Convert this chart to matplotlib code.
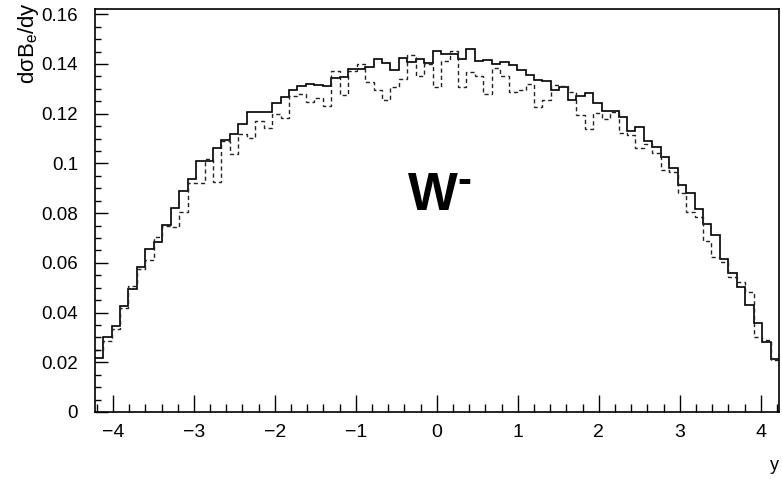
import matplotlib
matplotlib.use("Agg")
import matplotlib.pyplot as plt
import numpy as np

# histogram range / bins
y_lo, y_hi = -4.225, 4.225
n_bins = 81

# solid histogram (dsigma B_e / dy)
solid = [0.0217, 0.0300, 0.0347, 0.0426, 0.0493, 0.0584, 0.0654, 0.0683, 0.0752, 0.0819,
         0.0890, 0.0939, 0.1009, 0.1009, 0.1063, 0.1093, 0.1120, 0.1160, 0.1205, 0.1207,
         0.1207, 0.1243, 0.1268, 0.1294, 0.1313, 0.1321, 0.1315, 0.1313, 0.1344, 0.1347,
         0.1378, 0.1378, 0.1387, 0.1422, 0.1406, 0.1375, 0.1426, 0.1408, 0.1419, 0.1406,
         0.1451, 0.1442, 0.1442, 0.1422, 0.1459, 0.1411, 0.1415, 0.1399, 0.1408, 0.1395,
         0.1377, 0.1356, 0.1336, 0.1333, 0.1297, 0.1306, 0.1257, 0.1271, 0.1285, 0.1244,
         0.1210, 0.1210, 0.1187, 0.1131, 0.1147, 0.1089, 0.1065, 0.1025, 0.0980, 0.0915,
         0.0879, 0.0815, 0.0756, 0.0712, 0.0614, 0.0558, 0.0504, 0.0430, 0.0357, 0.0283,
         0.0213]

# dashed histogram
dashed = [0.0250, 0.0285, 0.0334, 0.0420, 0.0507, 0.0574, 0.0610, 0.0702, 0.0750, 0.0745,
          0.0805, 0.0922, 0.0922, 0.1016, 0.0924, 0.1089, 0.1037, 0.1118, 0.1104, 0.1170,
          0.1143, 0.1197, 0.1183, 0.1270, 0.1281, 0.1248, 0.1265, 0.1230, 0.1372, 0.1274,
          0.1372, 0.1400, 0.1328, 0.1297, 0.1257, 0.1308, 0.1341, 0.1438, 0.1351, 0.1400,
          0.1308, 0.1412, 0.1452, 0.1308, 0.1366, 0.1351, 0.1278, 0.1382, 0.1352, 0.1288,
          0.1297, 0.1319, 0.1227, 0.1255, 0.1315, 0.1310, 0.1288, 0.1194, 0.1137, 0.1203,
          0.1178, 0.1205, 0.1123, 0.1114, 0.1064, 0.1080, 0.1040, 0.0975, 0.0966, 0.0879,
          0.0805, 0.0785, 0.0688, 0.0624, 0.0605, 0.0545, 0.0522, 0.0484, 0.0303, 0.0290,
          0.0210]

x_ticks = [-4, -3, -2, -1, 0, 1, 2, 3, 4]
x_ticklabels = ['\u22124', '\u22123', '\u22122', '\u22121', '0', '1', '2', '3', '4']
y_ticks = [0, 0.02, 0.04, 0.06, 0.08, 0.10, 0.12, 0.14, 0.16]
y_ticklabels = ['0', '0.02', '0.04', '0.06', '0.08', '0.1', '0.12', '0.14', '0.16']

plt.rcParams['font.family'] = ['Liberation Sans', 'DejaVu Sans']

fig = plt.figure(figsize=(7.82, 4.80), dpi=100)
ax = fig.add_axes([0.1211, 0.1417, 0.8751, 0.8389])

edges = np.linspace(y_lo, y_hi, n_bins + 1)
ax.stairs(solid, edges, baseline=None, color='black', linewidth=1.2)
ax.stairs(dashed, edges, baseline=None, color='#222222', linewidth=1.0,
          linestyle=(0, (3.0, 2.2)))

ax.set_xlim(y_lo, y_hi)
ax.set_ylim(0, 0.162)

ax.set_xticks(x_ticks)
ax.set_xticklabels(x_ticklabels)
ax.set_xticks(np.arange(-4.2, 4.21, 0.2), minor=True)
ax.set_yticks(y_ticks)
ax.set_yticklabels(y_ticklabels)
ax.set_yticks(np.arange(0, 0.1621, 0.005), minor=True)

ax.tick_params(axis='x', which='major', direction='in', length=12, width=1, pad=9, labelsize=14)
ax.tick_params(axis='x', which='minor', direction='in', length=6, width=1)
ax.tick_params(axis='y', which='major', direction='in', length=9.5, width=1, pad=12, labelsize=13.5)
ax.tick_params(axis='y', which='minor', direction='in', length=4.5, width=1)

for s in ax.spines.values():
    s.set_linewidth(1.2)

# axis titles
fig.text(0.036, 0.995, r'd$\mathregular{\sigma}$B$\mathregular{_e}$/dy', rotation=90,
         ha='center', va='top', fontsize=16)
fig.text(774 / 782, 1 - 466 / 480, 'y', ha='center', va='center', fontsize=13)

# W- label
ax.text(0.4574, 0.5016, 'W', transform=ax.transAxes, ha='left', va='baseline',
        fontsize=38, fontweight='bold')
ax.text(0.5295, 0.572, '-', transform=ax.transAxes, ha='left', va='center',
        fontsize=30, fontweight='bold')

fig.savefig('out.png', dpi=100)
